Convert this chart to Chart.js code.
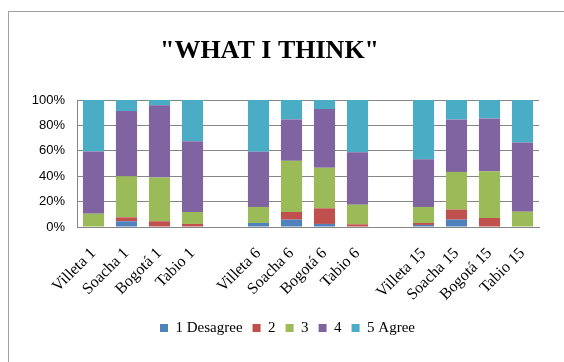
<!DOCTYPE html>
<html>
<head>
<meta charset="utf-8">
<script src="https://cdn.jsdelivr.net/npm/chart.js@4/dist/chart.umd.min.js"></script>
<style>
  html, body { margin: 0; padding: 0; background: #fff; }
  #frame { position: absolute; left: 8px; top: 11px; width: 600px; height: 400px;
           border-left: 1px solid #a0a0a0; border-top: 1px solid #a0a0a0; }
  #wrap { position: absolute; left: 0; top: 0; width: 564px; height: 362px; }
</style>
</head>
<body>
<div id="frame"></div>
<div id="wrap"><canvas id="c" width="564" height="362"></canvas></div>
<script>
const categories = ["Villeta 1", "Soacha 1", "Bogotá 1", "Tabio 1", "",
                    "Villeta 6", "Soacha 6", "Bogotá 6", "Tabio 6", "",
                    "Villeta 15", "Soacha 15", "Bogotá 15", "Tabio 15"];
const seriesNames = ["1 Desagree", "2", "3", "4", "5 Agree"];
const s1 = [0,   4.5, 0,    0,    null, 3.2,  5.8,  2.4,  0,    null, 1.6,  5.8,  0,    0];
const s2 = [0,   3.1, 4.5,  2.4,  null, 0,    6.0,  12.3, 2.1,  null, 1.6,  7.9,  7.1,  0];
const s3 = [10.5,32.4,34.5, 9.4,  null, 12.6, 40.3, 31.9, 15.5, null, 12.6, 29.7, 36.8, 12.1];
const s4 = [49.0,51.3,56.8, 55.8, null, 43.4, 32.6, 46.3, 41.3, null, 37.6, 41.3, 41.6, 54.5];
const s5 = [40.5,8.7, 4.2,  32.4, null, 40.8, 15.3, 7.1,  41.1, null, 46.6, 15.3, 14.5, 33.4];
const yTicks = [0, 20, 40, 60, 80, 100];
const colors = ["#4F81BD", "#C0504D", "#9BBB59", "#8064A2", "#4BACC6"];
const values = [s1, s2, s3, s4, s5];

const serif = "'Liberation Serif', 'Times New Roman', serif";
const sans = "'Liberation Sans', Arial, sans-serif";

const legendShift = {
  id: 'legendShift',
  afterLayout(chart) { chart.legend.left += 18; chart.legend.right += 18; }
};

new Chart(document.getElementById('c'), {
  type: 'bar',
  data: {
    labels: categories,
    datasets: values.map((v, i) => ({
      label: seriesNames[i], data: v, backgroundColor: colors[i],
      borderWidth: 0, barPercentage: 0.64, categoryPercentage: 1.0
    }))
  },
  plugins: [legendShift],
  options: {
    responsive: false, animation: false,
    layout: { padding: { left: 0, right: 25, top: 0, bottom: 16.5 } },
    plugins: {
      title: { display: true, text: '"WHAT I THINK"', color: '#000',
               font: { family: serif, size: 26, weight: 'bold' },
               padding: { top: 36, bottom: 32.8 } },
      legend: { position: 'bottom',
                labels: { color: '#000', font: { family: serif, size: 15 },
                          boxWidth: 8, boxHeight: 8, padding: 10 } },
      tooltip: { enabled: false }
    },
    scales: {
      x: { stacked: true,
           grid: { display: false, drawTicks: false },
           border: { color: '#868686' },
           ticks: { color: '#000', font: { family: serif, size: 16 },
                    minRotation: 45, maxRotation: 45, padding: 17, autoSkip: false },
           afterFit: (s) => { s.height = 83.5; } },
      y: { stacked: true, min: 0, max: 100,
           afterBuildTicks: (s) => { s.ticks = yTicks.map(v => ({ value: v })); },
           grid: { color: '#868686', drawTicks: false },
           border: { color: '#868686' },
           ticks: { color: '#000', font: { family: sans, size: 13 }, padding: 12,
                    callback: (v) => v + '%' },
           afterFit: (s) => { s.width = 77; } }
    }
  }
});
</script>
</body>
</html>
